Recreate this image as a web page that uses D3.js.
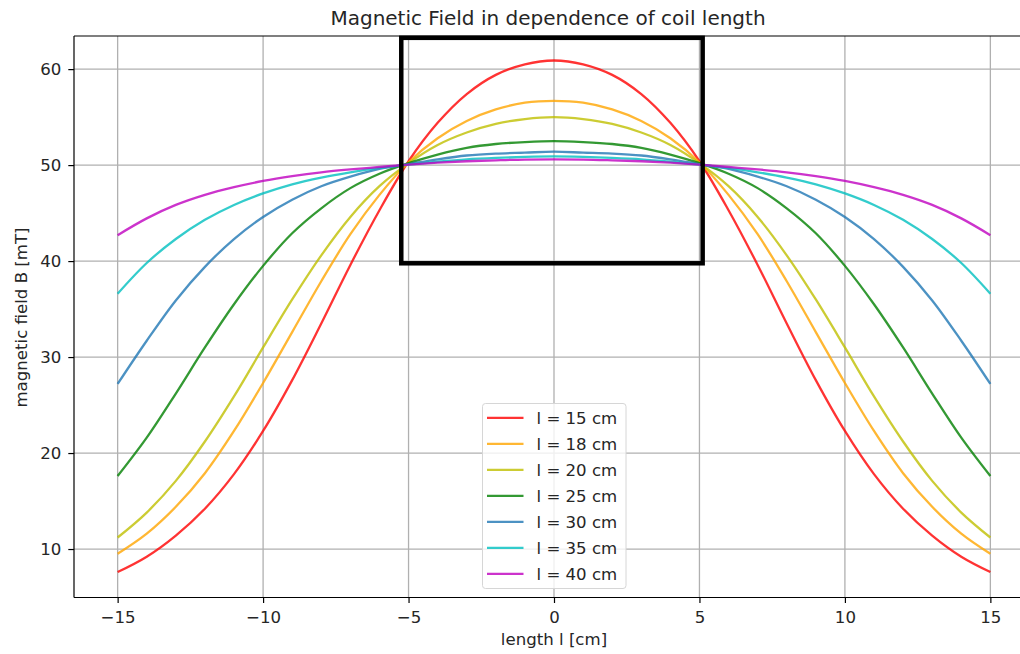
<!DOCTYPE html>
<html>
<head>
<meta charset="utf-8">
<script src="https://cdn.jsdelivr.net/npm/d3@7"></script>
<style>
  body { margin: 0; background: #fff; }
  svg { display: block; font-family: "DejaVu Sans", sans-serif; }
</style>
</head>
<body>
<svg id="chart" width="1020" height="654"></svg>
<script>
// position along the axis, cm
const positions = [-15, -14, -13, -12, -11, -10, -9, -8, -7, -6, -5, -4, -3, -2, -1, 0,
  1, 2, 3, 4, 5, 6, 7, 8, 9, 10, 11, 12, 13, 14, 15];

const coilLabels = ['l = 15 cm', 'l = 18 cm', 'l = 20 cm', 'l = 25 cm', 'l = 30 cm', 'l = 35 cm', 'l = 40 cm'];
const coilColors = ['#ff0000', '#ffa500', '#bfbf00', '#008000', '#1f77b4', '#00bfbf', '#bf00bf'];

// magnetic field B [mT]
const field15 = [7.6, 9.2, 11.4, 14.2, 17.8, 22.3, 27.6, 33.5, 39.6, 45.3, 50.4, 54.4, 57.4, 59.4, 60.5, 60.9,
  60.5, 59.4, 57.4, 54.4, 50.4, 45.3, 39.6, 33.5, 27.6, 22.3, 17.8, 14.2, 11.4, 9.2, 7.6];
const field18 = [9.5, 11.6, 14.4, 17.9, 22.3, 27.3, 32.6, 37.9, 42.8, 46.9, 50.3, 52.8, 54.6, 55.8, 56.5, 56.7,
  56.5, 55.8, 54.6, 52.8, 50.3, 46.9, 42.8, 37.9, 32.6, 27.3, 22.3, 17.9, 14.4, 11.6, 9.5];
const field20 = [11.2, 13.8, 17.1, 21.2, 25.9, 31.0, 36.0, 40.6, 44.6, 47.8, 50.2, 52.1, 53.4, 54.3, 54.8, 55.0,
  54.8, 54.3, 53.4, 52.1, 50.2, 47.8, 44.6, 40.6, 36.0, 31.0, 25.9, 21.2, 17.1, 13.8, 11.2];
const field25 = [17.6, 21.6, 26.2, 31.0, 35.5, 39.5, 42.9, 45.5, 47.6, 49.1, 50.2, 51.1, 51.8, 52.2, 52.4, 52.5,
  52.4, 52.2, 51.8, 51.1, 50.2, 49.1, 47.6, 45.5, 42.9, 39.5, 35.5, 31.0, 26.2, 21.6, 17.6];
const field30 = [27.2, 31.7, 35.9, 39.4, 42.3, 44.6, 46.4, 47.8, 48.8, 49.6, 50.1, 50.6, 51.0, 51.2, 51.3, 51.4,
  51.3, 51.2, 51.0, 50.6, 50.1, 49.6, 48.8, 47.8, 46.4, 44.6, 42.3, 39.4, 35.9, 31.7, 27.2];
const field35 = [36.6, 39.8, 42.3, 44.3, 45.85, 47.05, 48.0, 48.7, 49.25, 49.7, 50.05, 50.35, 50.6, 50.75, 50.85, 50.9,
  50.85, 50.75, 50.6, 50.35, 50.05, 49.7, 49.25, 48.7, 48.0, 47.05, 45.85, 44.3, 42.3, 39.8, 36.6];
const field40 = [42.7, 44.45, 45.85, 46.9, 47.7, 48.35, 48.85, 49.25, 49.55, 49.8, 50.05, 50.25, 50.4, 50.5, 50.58, 50.6,
  50.58, 50.5, 50.4, 50.25, 50.05, 49.8, 49.55, 49.25, 48.85, 48.35, 47.7, 46.9, 45.85, 44.45, 42.7];

const xTicks = [-15, -10, -5, 0, 5, 10, 15];
const yTicks = [10, 20, 30, 40, 50, 60];

// highlighted region (data units)
const boxX = [-5.25, 5.11];
const boxY = [39.77, 63.26];

const series = [field15, field18, field20, field25, field30, field35, field40];

const svg = d3.select('#chart');
svg.append('rect').attr('width', 1020).attr('height', 654).attr('fill', '#fff');

const plotLeft = 74, plotRight = 1034, plotTop = 36, plotBottom = 597.5;
const fontSize = 16.6;

let x = d3.scaleLinear().domain([-16.5, 16.5]).range([plotLeft, plotRight]);
let y = d3.scaleLinear().domain([4.95, 63.45]).range([plotBottom, plotTop]);

// grid
let grid = svg.append('g').attr('stroke', '#b0b0b0').attr('stroke-width', 1.3);
xTicks.forEach((t) => {
  grid.append('line').attr('x1', x(t)).attr('x2', x(t)).attr('y1', plotTop).attr('y2', plotBottom);
});
yTicks.forEach((t) => {
  grid.append('line').attr('x1', plotLeft).attr('x2', plotRight).attr('y1', y(t)).attr('y2', y(t));
});

// curves
let line = d3.line()
  .x((d) => x(d[0]))
  .y((d) => y(d[1]))
  .curve(d3.curveCatmullRom.alpha(0.5));

series.forEach((vals, i) => {
  svg.append('path')
    .attr('d', line(positions.map((p, j) => [p, vals[j]])))
    .attr('fill', 'none')
    .attr('stroke', coilColors[i])
    .attr('stroke-opacity', 0.8)
    .attr('stroke-width', 2.3);
});

// axes
let xAxis = svg.append('g')
  .attr('transform', `translate(0,${plotBottom})`)
  .call(d3.axisBottom(x).tickValues(xTicks).tickSize(5.5).tickPadding(8.5).tickSizeOuter(0));
let yAxis = svg.append('g')
  .attr('transform', `translate(${plotLeft},0)`)
  .call(d3.axisLeft(y).tickValues(yTicks).tickSize(5.7).tickPadding(7).tickSizeOuter(0));

[xAxis, yAxis].forEach((ax) => {
  ax.select('.domain').remove();
  ax.selectAll('line').attr('stroke', '#000').attr('stroke-width', 1.2);
  ax.selectAll('text').attr('font-size', fontSize + 'px').attr('fill', '#262626')
    .attr('font-family', '"DejaVu Sans", sans-serif');
});

// spines (left, top, bottom)
let spines = svg.append('g').attr('stroke', '#000').attr('stroke-width', 1.2).attr('fill', 'none');
spines.append('line').attr('x1', plotLeft).attr('x2', plotLeft).attr('y1', plotTop).attr('y2', plotBottom);
spines.append('line').attr('x1', plotLeft).attr('x2', plotRight).attr('y1', plotTop).attr('y2', plotTop);
spines.append('line').attr('x1', plotLeft).attr('x2', plotRight).attr('y1', plotBottom).attr('y2', plotBottom);

// highlight box
svg.append('rect')
  .attr('x', x(boxX[0]))
  .attr('y', y(boxY[1]))
  .attr('width', x(boxX[1]) - x(boxX[0]))
  .attr('height', y(boxY[0]) - y(boxY[1]))
  .attr('fill', 'none')
  .attr('stroke', '#000')
  .attr('stroke-width', 4.5);

// titles
svg.append('text')
  .attr('x', 548).attr('y', 25)
  .attr('text-anchor', 'middle')
  .attr('font-size', '20px').attr('fill', '#262626')
  .text('Magnetic Field in dependence of coil length');

svg.append('text')
  .attr('x', 554).attr('y', 644.5)
  .attr('text-anchor', 'middle')
  .attr('font-size', fontSize + 'px').attr('fill', '#262626')
  .text('length l [cm]');

svg.append('text')
  .attr('transform', `translate(27,317.5) rotate(-90)`)
  .attr('text-anchor', 'middle')
  .attr('font-size', fontSize + 'px').attr('fill', '#262626')
  .text('magnetic field B [mT]');

// legend
let legend = svg.append('g').attr('transform', 'translate(482.5,403.5)');
legend.append('rect')
  .attr('width', 143.5).attr('height', 185)
  .attr('rx', 3)
  .attr('fill', '#fff').attr('fill-opacity', 0.8)
  .attr('stroke', '#d6d6d6').attr('stroke-width', 1);

coilLabels.forEach((label, i) => {
  let ly = 14.3 + i * 26;
  legend.append('line')
    .attr('x1', 4.5).attr('x2', 41)
    .attr('y1', ly).attr('y2', ly)
    .attr('stroke', coilColors[i]).attr('stroke-opacity', 0.8).attr('stroke-width', 2.3);
  legend.append('text')
    .attr('x', 54).attr('y', ly + 6)
    .attr('font-size', fontSize + 'px').attr('fill', '#262626')
    .text(label);
});
</script>
</body>
</html>
